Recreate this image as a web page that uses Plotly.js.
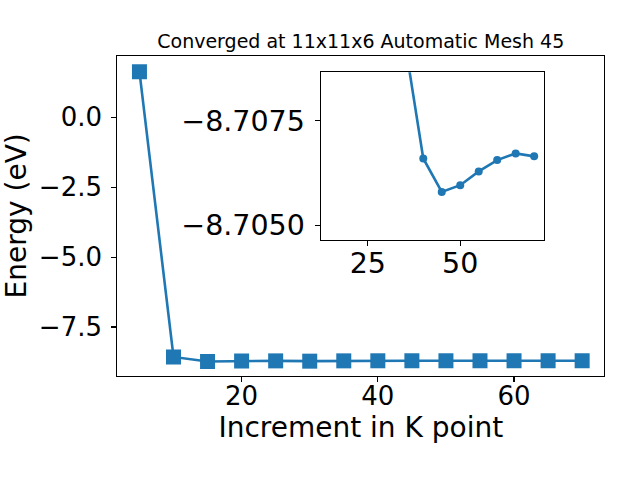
<!DOCTYPE html>
<html>
<head>
<meta charset="utf-8">
<script src="https://cdn.plot.ly/plotly-3.0.1.min.js"></script>
<style>html,body{margin:0;padding:0;background:#fff;}#plot{width:640px;height:480px;}</style>
</head>
<body>
<div id="plot"></div>
<script>
const kpoints = [5, 10, 15, 20, 25, 30, 35, 40, 45, 50, 55, 60, 65, 70];
const energy = [1.63, -8.57, -8.73, -8.71, -8.71, -8.72, -8.7094, -8.7066, -8.7058, -8.70596, -8.70629, -8.70656, -8.70672, -8.70665];
const insetK = kpoints.slice(2);
const insetE = energy.slice(2);
const titleText = "Converged at 11x11x6 Automatic Mesh 45";
const xTitle = "Increment in K point";
const yTitle = "Energy (eV)";

const blue = "#1f77b4";
const font = "DejaVu Sans, sans-serif";

const traces = [
  {x: kpoints, y: energy, mode: "lines+markers", xaxis: "x", yaxis: "y",
   line: {color: blue, width: 2.6},
   marker: {symbol: "square", size: 15, color: blue}},
  {x: insetK, y: insetE, mode: "lines+markers", xaxis: "x2", yaxis: "y2",
   line: {color: blue, width: 2.6},
   marker: {symbol: "circle", size: 8, color: blue}, cliponaxis: true}
];

const axCommon = {showgrid: false, zeroline: false, showline: true, linecolor: "#000", linewidth: 1.1,
  mirror: true, ticks: "outside", ticklen: 5, tickwidth: 1.1, tickcolor: "#000"};

const layout = {
  width: 640, height: 480, showlegend: false,
  margin: {l: 0, r: 0, t: 0, b: 0},
  paper_bgcolor: "#fff", plot_bgcolor: "#fff",
  font: {family: font, color: "#000"},
  title: {text: titleText, font: {family: font, size: 19, color: "#000"},
          xref: "paper", x: 0.5637, xanchor: "center", yref: "container", y: 1 - 41/480, yanchor: "middle"},
  xaxis: Object.assign({}, axCommon, {domain: [0.1833, 0.9442], range: [1.75, 73.25],
    tickvals: [20, 40, 60], tickfont: {size: 26}, ticklabelstandoff: -8,
    title: {text: xTitle, font: {size: 28}, standoff: 6}, anchor: "y"}),
  yaxis: Object.assign({}, axCommon, {domain: [0.2167, 0.884], range: [-9.25, 2.2],
    tickvals: [0, -2.5, -5, -7.5], tickformat: ".1f", tickfont: {size: 26}, ticklabelstandoff: 4,
    title: {text: yTitle, font: {size: 28}, standoff: 6}, anchor: "x"}),
  xaxis2: Object.assign({}, axCommon, {domain: [0.5011, 0.8505], range: [12.25, 72.75],
    tickvals: [25, 50], tickfont: {size: 28.5}, ticklabelstandoff: -7, anchor: "y2"}),
  yaxis2: Object.assign({}, axCommon, {domain: [0.5, 0.8494], range: [-8.70465, -8.70866],
    tickvals: [-8.7075, -8.705], tickformat: ".4f", tickfont: {size: 28.5}, ticklabelstandoff: 4, anchor: "x2"})
};

Plotly.newPlot("plot", traces, layout, {displayModeBar: false, staticPlot: true});
</script>
</body>
</html>
